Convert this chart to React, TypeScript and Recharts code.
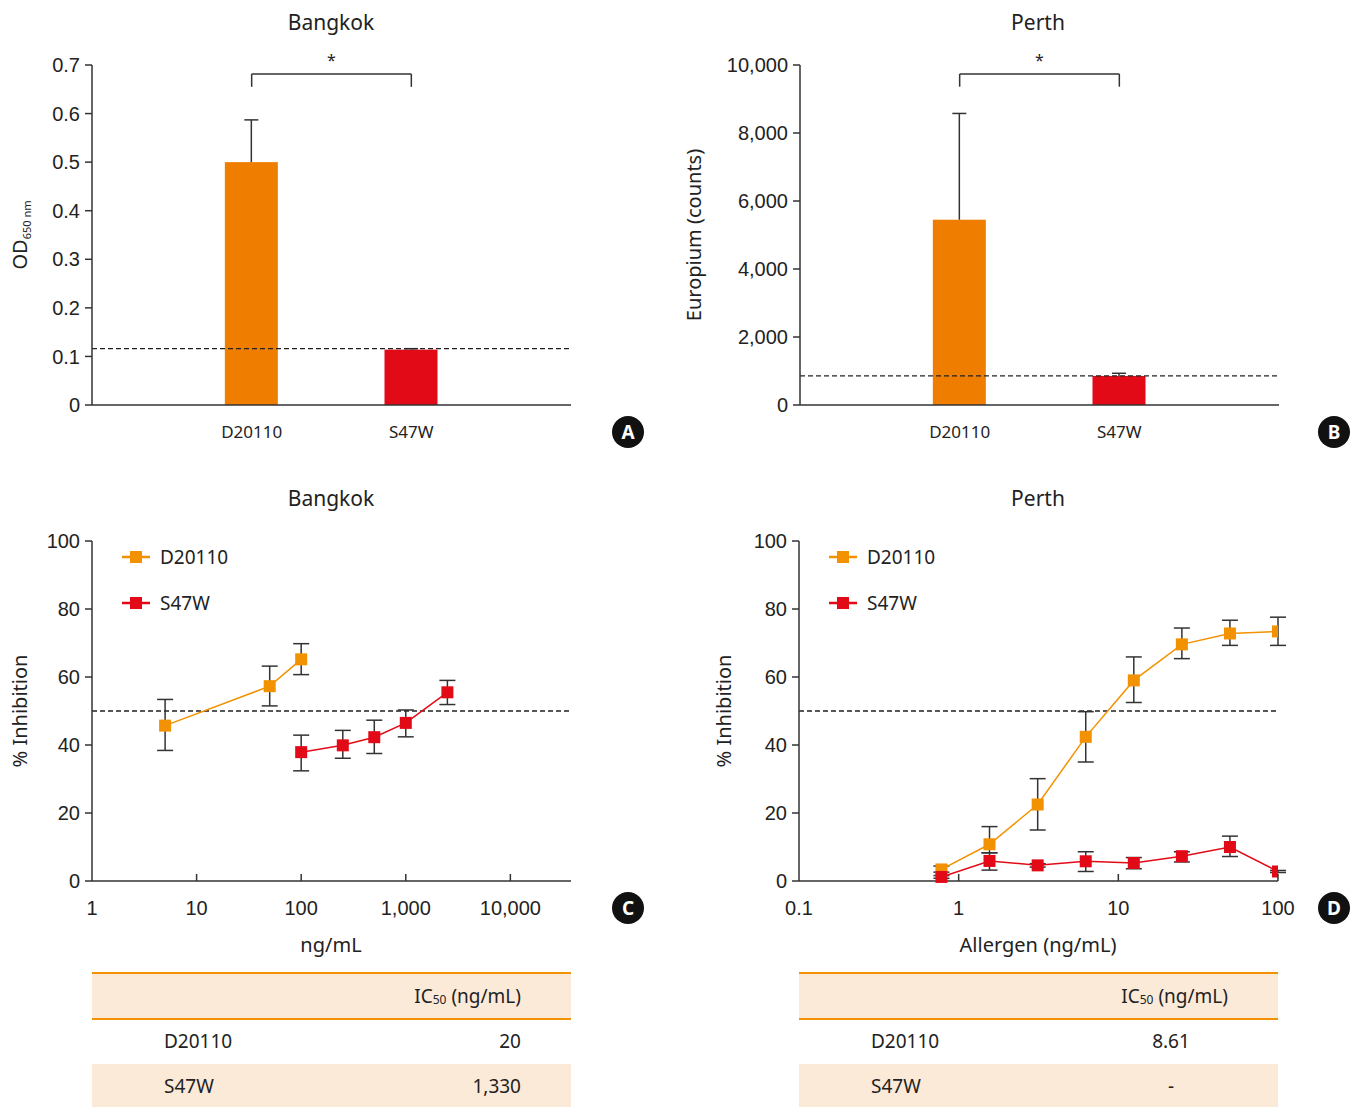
import {
  ComposedChart, Bar, Line, XAxis, YAxis, ErrorBar, ReferenceLine, Label,
} from 'recharts'

const groups = ['D20110', 'S47W']
const bangkokOD = [0.5, 0.114]
const bangkokODErr = [0.087, 0.002]
const bangkokODCutoff = 0.116
const perthEu = [5450, 855]
const perthEuErr = [3125, 78]
const perthEuCutoff = 855

const bangkokConcD = [5, 50, 100]
const bangkokInhD = [45.7, 57.3, 65.2]
const bangkokLowD = [38.4, 51.5, 60.7]
const bangkokHighD = [53.4, 63.2, 69.8]
const bangkokConcS = [100, 250, 500, 1000, 2500]
const bangkokInhS = [37.9, 39.9, 42.3, 46.5, 55.5]
const bangkokLowS = [32.4, 36.1, 37.5, 42.4, 51.9]
const bangkokHighS = [42.9, 44.3, 47.3, 50.3, 59]

const perthConc = [0.78, 1.56, 3.125, 6.25, 12.5, 25, 50, 100]
const perthInhD = [3.4, 10.8, 22.5, 42.4, 59, 69.6, 72.8, 73.4]
const perthLowD = [2.6, 8.3, 15, 35, 52.5, 65.4, 69.3, 69.3]
const perthHighD = [4.4, 16, 30.1, 49.8, 65.9, 74.4, 76.7, 77.6]
const perthInhS = [1.2, 5.9, 4.6, 5.8, 5.3, 7.3, 10, 2.8]
const perthLowS = [0.8, 3.2, 4.1, 2.8, 3.6, 5.6, 7.2, 2.5]
const perthHighS = [1.6, 8.3, 5.1, 8.6, 6.9, 8.6, 13.2, 3.1]

const inhibitionTicks = [0, 20, 40, 60, 80, 100]
const bangkokXTicks = [1, 10, 100, 1000, 10000]
const perthXTicks = [0.1, 1, 10, 100]

const ic50Bangkok = ['20', '1,330']
const ic50Perth = ['8.61', '-']

const ORANGE_BAR = '#ef7d00'
const ORANGE = '#f39200'
const RED = '#e30a17'
const PEACH = '#fcead9'
const INK = '#333'
const NUM_FONT = '"Liberation Sans", Arial, sans-serif'
const TXT_FONT = '"Noto Sans", sans-serif'

const barRows = (vals: number[], errs: number[]) =>
  groups.map((g, i) => ({ pos: i + 1, name: g, value: vals[i], err: errs[i] }))

const lineRows = (xs: number[], ys: number[], lo: number[], hi: number[]) =>
  xs.map((x, i) => ({ x, y: ys[i], err: [ys[i] - lo[i], hi[i] - ys[i]] }))

const fmt = (v: number) => v.toLocaleString('en-US')

const yTick = { fontFamily: NUM_FONT, fontSize: 20, fill: '#222' }

function GroupTick({ x, y, payload }: any) {
  return (
    <text x={x} y={y} dy={12} textAnchor="middle" fontFamily={TXT_FONT} fontSize={17} fill="#222">
      {groups[payload.value - 1]}
    </text>
  )
}

function LogTick({ x, y, payload, index }: any) {
  return (
    <g>
      {index > 0 && <line x1={x} x2={x} y1={y - 20} y2={y - 27} stroke={INK} strokeWidth={1.5} />}
      <text x={x} y={y} dy={14} textAnchor="middle" fontFamily={NUM_FONT} fontSize={20} fill="#222">
        {fmt(payload.value)}
      </text>
    </g>
  )
}

// bar with an upward-only SD whisker, scaled from the bar's own pixel height
function BarWithWhisker(p: any) {
  const { x, y, width, height, payload, index } = p
  const perUnit = height / payload.value
  const top = y - payload.err * perUnit
  const cx = x + width / 2
  return (
    <g>
      <rect x={x} y={y} width={width} height={height} fill={index === 0 ? ORANGE_BAR : RED} />
      <line x1={cx} x2={cx} y1={y} y2={top} stroke={INK} strokeWidth={1.5} />
      <line x1={cx - 7} x2={cx + 7} y1={top} y2={top} stroke={INK} strokeWidth={1.5} />
    </g>
  )
}

const square = (color: string) => (p: any) =>
  <rect key={p.index} x={p.cx - 6} y={p.cy - 6} width={12} height={12} fill={color} />

function BarPanel({ vals, errs, cutoff, max, ticks, bracket, yWidth, width, fmtY }: any) {
  return (
    <ComposedChart
      width={width}
      height={470}
      data={barRows(vals, errs)}
      margin={{ top: 65, right: width - yWidth - 479, left: 0, bottom: 35 }}
    >
      <XAxis
        dataKey="pos"
        type="number"
        domain={[0, 3]}
        ticks={[1, 2]}
        tick={<GroupTick />}
        tickLine={false}
        tickSize={0}
        tickMargin={21}
        height={30}
        stroke={INK}
        strokeWidth={1.5}
      />
      <YAxis
        domain={[0, max]}
        ticks={ticks}
        tickFormatter={fmtY}
        width={yWidth}
        tick={yTick}
        tickSize={7}
        tickMargin={5}
        stroke={INK}
        strokeWidth={1.5}
      />
      <Bar dataKey="value" barSize={53} shape={BarWithWhisker} isAnimationActive={false} />
      <ReferenceLine y={cutoff} stroke="#222" strokeDasharray="5 3" strokeWidth={1.3} />
      <ReferenceLine
        segment={[{ x: 1, y: bracket[0] }, { x: 2, y: bracket[0] }]}
        stroke={INK}
        strokeWidth={1.5}
        ifOverflow="visible"
      >
        <Label value="*" position="top" offset={8} fontFamily={TXT_FONT} fontSize={16} fill="#222" />
      </ReferenceLine>
      <ReferenceLine segment={[{ x: 1, y: bracket[0] }, { x: 1, y: bracket[1] }]} stroke={INK} strokeWidth={1.5} ifOverflow="visible" />
      <ReferenceLine segment={[{ x: 2, y: bracket[0] }, { x: 2, y: bracket[1] }]} stroke={INK} strokeWidth={1.5} ifOverflow="visible" />
    </ComposedChart>
  )
}

function LinePanel({ dRows, sRows, domain, xTicks, yWidth, width }: any) {
  return (
    <ComposedChart
      width={width}
      height={480}
      margin={{ top: 61, right: width - yWidth - 479, left: 0, bottom: 49 }}
    >
      <XAxis
        dataKey="x"
        type="number"
        scale="log"
        domain={domain}
        ticks={xTicks}
        allowDataOverflow
        tick={<LogTick />}
        tickLine={false}
        tickSize={0}
        tickMargin={20}
        height={30}
        stroke={INK}
        strokeWidth={1.5}
      />
      <YAxis
        domain={[0, 100]}
        ticks={inhibitionTicks}
        width={yWidth}
        tick={yTick}
        tickSize={7}
        tickMargin={5}
        stroke={INK}
        strokeWidth={1.5}
      />
      <ReferenceLine y={50} stroke="#222" strokeDasharray="5 3" strokeWidth={1.3} />
      <Line
        data={dRows}
        dataKey="y"
        stroke={ORANGE}
        strokeWidth={1.5}
        dot={square(ORANGE)}
        isAnimationActive={false}
      >
        <ErrorBar dataKey="err" width={8} stroke={INK} strokeWidth={1.5} direction="y" />
      </Line>
      <Line
        data={sRows}
        dataKey="y"
        stroke={RED}
        strokeWidth={1.5}
        dot={square(RED)}
        isAnimationActive={false}
      >
        <ErrorBar dataKey="err" width={8} stroke={INK} strokeWidth={1.5} direction="y" />
      </Line>
    </ComposedChart>
  )
}

function Legend({ x, y }: { x: number; y: number }) {
  const items = [
    { name: groups[0], color: ORANGE },
    { name: groups[1], color: RED },
  ]
  return (
    <g>
      {items.map((it, i) => (
        <g key={it.name}>
          <line x1={x} x2={x + 28} y1={y + i * 46} y2={y + i * 46} stroke={it.color} strokeWidth={2.5} />
          <rect x={x + 8} y={y + i * 46 - 6} width={12} height={12} fill={it.color} />
          <text x={x + 38} y={y + i * 46} dy={7} fontFamily={TXT_FONT} fontSize={19} fill="#222">
            {it.name}
          </text>
        </g>
      ))}
    </g>
  )
}

function Badge({ x, y, letter }: { x: number; y: number; letter: string }) {
  return (
    <g>
      <circle cx={x} cy={y} r={16} fill="#111" />
      <text x={x} y={y} dy={7} textAnchor="middle" fontFamily={TXT_FONT} fontWeight={700} fontSize={19} fill="#fff">
        {letter}
      </text>
    </g>
  )
}

function VLabel({ x, y, children }: any) {
  return (
    <text
      transform={`translate(${x},${y}) rotate(-90)`}
      textAnchor="middle"
      dy={7}
      fontFamily={TXT_FONT}
      fontSize={20}
      fill="#222"
    >
      {children}
    </text>
  )
}

function Title({ x, y, children }: any) {
  return (
    <text x={x} y={y} dy={7} textAnchor="middle" fontFamily={TXT_FONT} fontSize={21} fill="#222">
      {children}
    </text>
  )
}

function IcTable({ left, values, centered }: { left: number; values: string[]; centered?: boolean }) {
  const cell: any = { position: 'absolute', left: 72, right: 50, fontFamily: TXT_FONT, fontSize: 19, color: '#222' }
  const val: any = centered
    ? { position: 'absolute', left: 272, width: 200, textAlign: 'center', fontFamily: TXT_FONT, fontSize: 19, color: '#222' }
    : { ...cell, textAlign: 'right' }
  return (
    <div style={{ position: 'absolute', left, top: 972, width: 479, height: 135 }}>
      <div style={{ position: 'absolute', left: 0, top: 0, width: 479, height: 48, background: PEACH, borderTop: `2px solid ${ORANGE}`, borderBottom: `2px solid ${ORANGE}`, boxSizing: 'border-box' }} />
      <div style={{ ...cell, top: 11, textAlign: 'right' }}>
        IC<sub style={{ fontSize: 12, verticalAlign: -1 }}>50</sub> (ng/mL)
      </div>
      <div style={{ ...cell, top: 56 }}>{groups[0]}</div>
      <div style={{ ...val, top: 56 }}>{values[0]}</div>
      <div style={{ position: 'absolute', left: 0, top: 92, width: 479, height: 43, background: PEACH }} />
      <div style={{ ...cell, top: 101 }}>{groups[1]}</div>
      <div style={{ ...val, top: 101 }}>{values[1]}</div>
    </div>
  )
}

export default function App() {
  return (
    <div style={{ position: 'absolute', left: 0, top: 0, width: 1357, height: 1107, background: '#fff', overflow: 'hidden' }}>
      <div style={{ position: 'absolute', left: 0, top: 0 }}>
        <BarPanel
          vals={bangkokOD}
          errs={bangkokODErr}
          cutoff={bangkokODCutoff}
          max={0.7}
          ticks={[0, 0.1, 0.2, 0.3, 0.4, 0.5, 0.6, 0.7]}
          bracket={[0.6815, 0.655]}
          yWidth={92}
          width={660}
          fmtY={(v: number) => String(v)}
        />
      </div>
      <div style={{ position: 'absolute', left: 700, top: 0 }}>
        <BarPanel
          vals={perthEu}
          errs={perthEuErr}
          cutoff={perthEuCutoff}
          max={10000}
          ticks={[0, 2000, 4000, 6000, 8000, 10000]}
          bracket={[9735, 9362]}
          yWidth={100}
          width={657}
          fmtY={fmt}
        />
      </div>
      <div style={{ position: 'absolute', left: 0, top: 480 }}>
        <LinePanel
          dRows={lineRows(bangkokConcD, bangkokInhD, bangkokLowD, bangkokHighD)}
          sRows={lineRows(bangkokConcS, bangkokInhS, bangkokLowS, bangkokHighS)}
          domain={[1, 38000]}
          xTicks={bangkokXTicks}
          yWidth={92}
          width={660}
        />
      </div>
      <div style={{ position: 'absolute', left: 700, top: 480 }}>
        <LinePanel
          dRows={lineRows(perthConc, perthInhD, perthLowD, perthHighD)}
          sRows={lineRows(perthConc, perthInhS, perthLowS, perthHighS)}
          domain={[0.1, 100]}
          xTicks={perthXTicks}
          yWidth={99}
          width={657}
        />
      </div>
      <svg width={1357} height={1107} style={{ position: 'absolute', left: 0, top: 0, pointerEvents: 'none' }}>
        <Title x={331} y={23}>Bangkok</Title>
        <Title x={1038} y={23}>Perth</Title>
        <Title x={331} y={499}>Bangkok</Title>
        <Title x={1038} y={499}>Perth</Title>
        <text
          transform="translate(20,235) rotate(-90)"
          textAnchor="middle"
          dy={7}
          fontFamily={TXT_FONT}
          fontSize={20}
          fill="#222"
        >
          OD<tspan fontSize={11} dy={4}>650 nm</tspan>
        </text>
        <VLabel x={694} y={235}>Europium (counts)</VLabel>
        <VLabel x={20} y={711}>% Inhibition</VLabel>
        <VLabel x={724} y={711}>% Inhibition</VLabel>
        <text x={331} y={945} dy={7} textAnchor="middle" fontFamily={TXT_FONT} fontSize={20} fill="#222">ng/mL</text>
        <text x={1038} y={945} dy={7} textAnchor="middle" fontFamily={TXT_FONT} fontSize={20} fill="#222">Allergen (ng/mL)</text>
        <Legend x={122} y={557} />
        <Legend x={829} y={557} />
        <Badge x={628} y={432} letter="A" />
        <Badge x={1334} y={432} letter="B" />
        <Badge x={628} y={908} letter="C" />
        <Badge x={1334} y={908} letter="D" />
      </svg>
      <IcTable left={92} values={ic50Bangkok} />
      <IcTable left={799} values={ic50Perth} centered />
    </div>
  )
}
